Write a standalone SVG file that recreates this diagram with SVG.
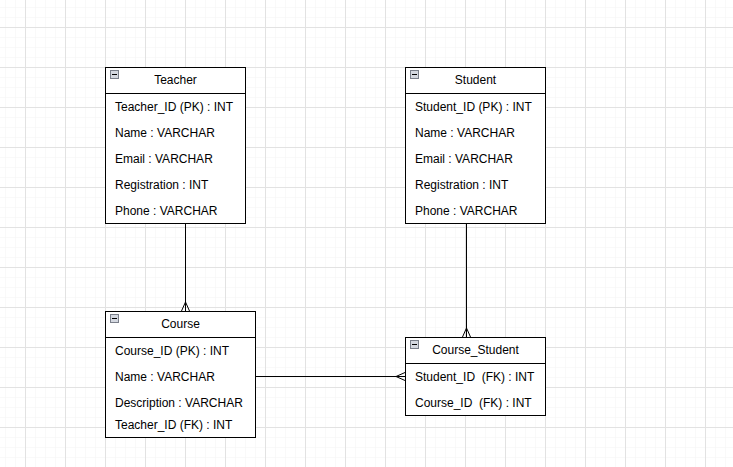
<svg xmlns="http://www.w3.org/2000/svg" width="733" height="467" viewBox="0 0 733 467">
<defs>
<pattern id="minor" x="5" y="7" width="10" height="10" patternUnits="userSpaceOnUse">
<path d="M0 0H10M0 0V10" fill="none" stroke="#f3f3f3" stroke-width="1"/>
</pattern>
<pattern id="major" x="25" y="27" width="40" height="40" patternUnits="userSpaceOnUse">
<path d="M0 0.5H40M0.5 0V40" fill="none" stroke="#e2e2e2" stroke-width="1"/>
</pattern>
<g id="minus">
<rect x="0.5" y="0.5" width="8" height="8" fill="#d4d8e0" stroke="#7a7f8a" stroke-width="1"/>
<line x1="2" y1="4.5" x2="7" y2="4.5" stroke="#000" stroke-width="1"/>
</g>
</defs>
<style>
text{font-family:"Liberation Sans",Arial,sans-serif;font-size:12px;fill:#000}
.t{text-anchor:middle}
.box{fill:#fff;stroke:#000;stroke-width:1}
.ln{fill:none;stroke:#000;stroke-width:1}
</style>
<rect width="733" height="467" fill="#fff"/>
<rect width="733" height="467" fill="url(#minor)"/>
<rect width="733" height="467" fill="url(#major)"/>

<g id="connectors" class="ln" fill="none" stroke="#000">
<path d="M185.5 223V311"/>
<path d="M181.5 311L185.5 302L189.5 311"/>
<path d="M466.5 223V337"/>
<path d="M462.5 337L466.5 328L470.5 337"/>
<path d="M255 376.5H405"/>
<path d="M405 372.5L396 376.5L405 380.5"/>
</g>

<g id="teacher">
<rect class="box" x="105.5" y="67.5" width="140" height="156"/>
<line class="ln" x1="105.5" y1="93.5" x2="245.5" y2="93.5"/>
<use href="#minus" x="110" y="70"/>
<text class="t" x="175.5" y="84">Teacher</text>
<text x="115" y="111">Teacher_ID (PK) : INT</text>
<text x="115" y="137">Name : VARCHAR</text>
<text x="115" y="163">Email : VARCHAR</text>
<text x="115" y="189">Registration : INT</text>
<text x="115" y="215">Phone : VARCHAR</text>
</g>

<g id="student">
<rect class="box" x="405.5" y="67.5" width="140" height="156"/>
<line class="ln" x1="405.5" y1="93.5" x2="545.5" y2="93.5"/>
<use href="#minus" x="410" y="70"/>
<text class="t" x="475.5" y="84">Student</text>
<text x="415" y="111">Student_ID (PK) : INT</text>
<text x="415" y="137">Name : VARCHAR</text>
<text x="415" y="163">Email : VARCHAR</text>
<text x="415" y="189">Registration : INT</text>
<text x="415" y="215">Phone : VARCHAR</text>
</g>

<g id="course">
<rect class="box" x="105.5" y="311.5" width="150" height="126"/>
<line class="ln" x1="105.5" y1="337.5" x2="255.5" y2="337.5"/>
<use href="#minus" x="110" y="314"/>
<text class="t" x="180.5" y="328">Course</text>
<text x="115" y="355">Course_ID (PK) : INT</text>
<text x="115" y="381">Name : VARCHAR</text>
<text x="115" y="407">Description : VARCHAR</text>
<text x="115" y="429">Teacher_ID (FK) : INT</text>
</g>

<g id="course_student">
<rect class="box" x="405.5" y="337.5" width="140" height="78"/>
<line class="ln" x1="405.5" y1="363.5" x2="545.5" y2="363.5"/>
<use href="#minus" x="410" y="340"/>
<text class="t" x="475.5" y="354">Course_Student</text>
<text x="415" y="381" xml:space="preserve">Student_ID  (FK) : INT</text>
<text x="415" y="407" xml:space="preserve">Course_ID  (FK) : INT</text>
</g>
</svg>
